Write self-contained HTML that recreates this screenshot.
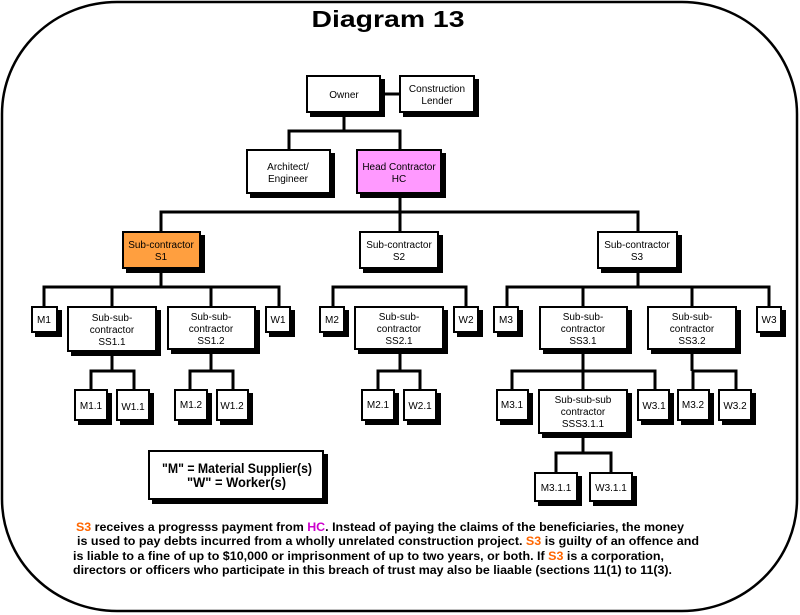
<!DOCTYPE html>
<html><head><meta charset="utf-8"><style>
html,body{margin:0;padding:0;background:#fff;}
svg{display:block;}
text{font-family:"Liberation Sans",sans-serif;}
.b{font-size:10px;text-anchor:middle;}
</style></head><body>
<svg width="800" height="615" viewBox="0 0 800 615" xmlns="http://www.w3.org/2000/svg">
<rect x="2" y="2" width="795" height="609" rx="115" ry="112" fill="#fff" stroke="#000" stroke-width="2.5"/>
<text x="388" y="27" font-size="23" font-weight="bold" text-anchor="middle" textLength="153" lengthAdjust="spacingAndGlyphs">Diagram 13</text>
<g stroke="#000" stroke-width="3" fill="none">
<line x1="380" y1="94" x2="400" y2="94"/>
<polyline points="344,112 344,131"/><polyline points="289,150 289,131 400,131 400,150"/>
<polyline points="400,193 400,232"/><polyline points="161,232 161,212 638,212 638,232"/>
<polyline points="161,268 161,287"/><polyline points="44,307 44,287 279,287 279,307"/><line x1="112" y1="287" x2="112" y2="307"/><line x1="211" y1="287" x2="211" y2="307"/>
<polyline points="333,307 333,287 466,287 466,307"/>
<polyline points="638,268 638,287"/><polyline points="507,307 507,287 769,287 769,307"/><line x1="583" y1="287" x2="583" y2="307"/><line x1="692" y1="287" x2="692" y2="307"/>
<polyline points="112,351 112,371"/><polyline points="91,390 91,371 134,371 134,390"/>
<polyline points="211,349 211,371"/><polyline points="190,390 190,371 233,371 233,390"/>
<polyline points="400,349 400,371"/><polyline points="378,390 378,371 420,371 420,390"/>
<polyline points="583,349 583,390"/><polyline points="512,390 512,371 655,371 655,390"/>
<polyline points="692,349 692,371"/><polyline points="693,390 693,371 736,371 736,390"/>
<polyline points="583,433 583,453"/><polyline points="556,473 556,453 611,453 611,473"/>
</g>
<g stroke="#000" stroke-width="2">
<rect x="311" y="80" width="73" height="36" fill="#000"/><rect x="307" y="76" width="73" height="36" fill="#fff"/>
<rect x="404" y="80" width="74" height="36" fill="#000"/><rect x="400" y="76" width="74" height="36" fill="#fff"/>
<rect x="251" y="154" width="83" height="43" fill="#000"/><rect x="247" y="150" width="83" height="43" fill="#fff"/>
<rect x="361" y="154" width="84" height="43" fill="#000"/><rect x="357" y="150" width="84" height="43" fill="#ff99ff"/>
<rect x="127" y="236" width="77" height="36" fill="#000"/><rect x="123" y="232" width="77" height="36" fill="#ff9f3f"/>
<rect x="364" y="236" width="78" height="36" fill="#000"/><rect x="360" y="232" width="78" height="36" fill="#fff"/>
<rect x="602" y="236" width="79" height="36" fill="#000"/><rect x="598" y="232" width="79" height="36" fill="#fff"/>
<rect x="36" y="311" width="25" height="25" fill="#000"/><rect x="32" y="307" width="25" height="25" fill="#fff"/>
<rect x="72" y="311" width="88" height="44" fill="#000"/><rect x="68" y="307" width="88" height="44" fill="#fff"/>
<rect x="172" y="311" width="87" height="42" fill="#000"/><rect x="168" y="307" width="87" height="42" fill="#fff"/>
<rect x="270" y="311" width="24" height="25" fill="#000"/><rect x="266" y="307" width="24" height="25" fill="#fff"/>
<rect x="324" y="311" width="24" height="25" fill="#000"/><rect x="320" y="307" width="24" height="25" fill="#fff"/>
<rect x="359" y="311" width="88" height="42" fill="#000"/><rect x="355" y="307" width="88" height="42" fill="#fff"/>
<rect x="458" y="311" width="24" height="25" fill="#000"/><rect x="454" y="307" width="24" height="25" fill="#fff"/>
<rect x="498" y="311" width="24" height="25" fill="#000"/><rect x="494" y="307" width="24" height="25" fill="#fff"/>
<rect x="544" y="311" width="87" height="42" fill="#000"/><rect x="540" y="307" width="87" height="42" fill="#fff"/>
<rect x="652" y="311" width="88" height="42" fill="#000"/><rect x="648" y="307" width="88" height="42" fill="#fff"/>
<rect x="761" y="311" width="24" height="25" fill="#000"/><rect x="757" y="307" width="24" height="25" fill="#fff"/>
<rect x="79" y="394" width="32" height="30" fill="#000"/><rect x="75" y="390" width="32" height="30" fill="#fff"/>
<rect x="121" y="394" width="32" height="30" fill="#000"/><rect x="117" y="390" width="32" height="30" fill="#fff"/>
<rect x="179" y="394" width="32" height="30" fill="#000"/><rect x="175" y="390" width="32" height="30" fill="#fff"/>
<rect x="221" y="394" width="31" height="30" fill="#000"/><rect x="217" y="390" width="31" height="30" fill="#fff"/>
<rect x="366" y="394" width="32" height="30" fill="#000"/><rect x="362" y="390" width="32" height="30" fill="#fff"/>
<rect x="408" y="394" width="32" height="30" fill="#000"/><rect x="404" y="390" width="32" height="30" fill="#fff"/>
<rect x="501" y="394" width="31" height="30" fill="#000"/><rect x="497" y="390" width="31" height="30" fill="#fff"/>
<rect x="543" y="394" width="88" height="43" fill="#000"/><rect x="539" y="390" width="88" height="43" fill="#fff"/>
<rect x="642" y="394" width="31" height="30" fill="#000"/><rect x="638" y="390" width="31" height="30" fill="#fff"/>
<rect x="682" y="394" width="31" height="30" fill="#000"/><rect x="678" y="390" width="31" height="30" fill="#fff"/>
<rect x="723" y="394" width="32" height="30" fill="#000"/><rect x="719" y="390" width="32" height="30" fill="#fff"/>
<rect x="539" y="477" width="42" height="28" fill="#000"/><rect x="535" y="473" width="42" height="28" fill="#fff"/>
<rect x="594" y="477" width="42" height="28" fill="#000"/><rect x="590" y="473" width="42" height="28" fill="#fff"/>
<rect x="153" y="455" width="174" height="48" fill="#000"/><rect x="149" y="451" width="174" height="48" fill="#fff"/>
</g>
<g class="b">
<text x="344" y="98">Owner</text>
<text x="437" y="92">Construction</text><text x="437" y="104">Lender</text>
<text x="288" y="170">Architect/</text><text x="288" y="182">Engineer</text>
<text x="399" y="170">Head Contractor</text><text x="399" y="182">HC</text>
<text x="161" y="248">Sub-contractor</text><text x="161" y="260">S1</text>
<text x="399" y="248">Sub-contractor</text><text x="399" y="260">S2</text>
<text x="637" y="248">Sub-contractor</text><text x="637" y="260">S3</text>
<text x="44" y="323">M1</text><text x="278" y="323">W1</text><text x="332" y="323">M2</text><text x="466" y="323">W2</text><text x="506" y="323">M3</text><text x="769" y="323">W3</text>
<text x="112" y="321">Sub-sub-</text><text x="112" y="333">contractor</text><text x="112" y="345">SS1.1</text>
<text x="211" y="320">Sub-sub-</text><text x="211" y="332">contractor</text><text x="211" y="344">SS1.2</text>
<text x="399" y="320">Sub-sub-</text><text x="399" y="332">contractor</text><text x="399" y="344">SS2.1</text>
<text x="583" y="320">Sub-sub-</text><text x="583" y="332">contractor</text><text x="583" y="344">SS3.1</text>
<text x="692" y="320">Sub-sub-</text><text x="692" y="332">contractor</text><text x="692" y="344">SS3.2</text>
<text x="91" y="409">M1.1</text><text x="133" y="410">W1.1</text><text x="191" y="408">M1.2</text><text x="232" y="409">W1.2</text>
<text x="378" y="408">M2.1</text><text x="420" y="409">W2.1</text>
<text x="512" y="408">M3.1</text><text x="654" y="409">W3.1</text><text x="693" y="408">M3.2</text><text x="735" y="409">W3.2</text>
<text x="583" y="403">Sub-sub-sub</text><text x="583" y="415">contractor</text><text x="583" y="427">SSS3.1.1</text>
<text x="556" y="491">M3.1.1</text><text x="611" y="491">W3.1.1</text>
</g>
<text x="162" y="473" font-size="14" font-weight="bold" textLength="150" lengthAdjust="spacingAndGlyphs">"M" = Material Supplier(s)</text>
<text x="187" y="487" font-size="14" font-weight="bold" textLength="99" lengthAdjust="spacingAndGlyphs">"W" = Worker(s)</text>
<g font-size="12" font-weight="bold">
<text x="76" y="531" textLength="608" lengthAdjust="spacingAndGlyphs"><tspan fill="#ff6600">S3</tspan> receives a progresss payment from <tspan fill="#cc00cc">HC</tspan>.  Instead of paying the claims of the beneficiaries, the money</text>
<text x="77" y="545" textLength="622" lengthAdjust="spacingAndGlyphs">is used to pay debts incurred from a wholly unrelated construction project.   <tspan fill="#ff6600">S3</tspan> is guilty of an offence and</text>
<text x="73" y="560" textLength="591" lengthAdjust="spacingAndGlyphs">is liable to a fine of up to $10,000 or imprisonment of up to two years, or both.  If <tspan fill="#ff6600">S3</tspan> is a corporation,</text>
<text x="73" y="574" textLength="599" lengthAdjust="spacingAndGlyphs">directors or officers who participate in this breach of trust may also be liaable (sections 11(1) to 11(3).</text>
</g>
</svg>
</body></html>
